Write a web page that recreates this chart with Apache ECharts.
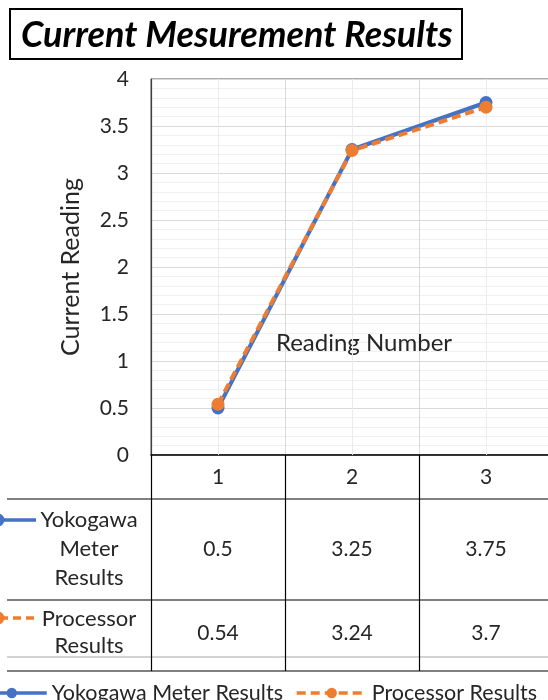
<!DOCTYPE html>
<html>
<head>
<meta charset="utf-8">
<script src="https://cdn.jsdelivr.net/npm/echarts@6/dist/echarts.min.js"></script>
<style>html,body{margin:0;padding:0;background:#fff}#c{width:548px;height:700px}</style>
</head>
<body>
<div id="c"></div>
<script>
const titleText = 'Current Mesurement Results';
const categories = ['1', '2', '3'];
const seriesNames = ['Yokogawa Meter Results', 'Processor Results'];
const tableRowLabels = ['Yokogawa\nMeter\nResults', 'Processor\nResults'];
const yokogawa = [0.5, 3.25, 3.75];
const processor = [0.54, 3.24, 3.7];
const yAxisName = 'Current Reading';
const xAxisName = 'Reading Number';

const FONT = 'Lato';
const TXT = '#262626';
const BLUE = '#4472C4';
const ORANGE = '#ED7D31';

const chart = echarts.init(document.getElementById('c'), null, {renderer: 'canvas'});

const option = {
  animation: false,
  textStyle: {fontFamily: FONT},
  title: {
    text: titleText, left: 10, top: 9,
    padding: [8, 10, 6, 11],
    borderColor: '#000', borderWidth: 2,
    textStyle: {fontFamily: FONT, fontSize: 36, fontWeight: 'bold', fontStyle: 'italic', color: '#000'}
  },
  legend: {
    data: seriesNames, left: -30, top: 677,
    itemWidth: 70, itemHeight: 13, itemGap: 12,
    lineStyle: {width: 3.5},
    textStyle: {fontFamily: FONT, fontSize: 21.5, color: TXT}
  },
  grid: {left: 151, top: 79, width: 402, bottom: 245, outerBoundsMode: 'none', show: true, borderColor: '#595959', borderWidth: 1},
  xAxis: {
    type: 'category', data: categories, boundaryGap: true,
    axisLine: {show: true, lineStyle: {color: '#000', width: 1.5}},
    axisTick: {show: true, length: 216, lineStyle: {color: '#000', width: 1.2}},
    axisLabel: {margin: 12, fontSize: 21, color: TXT, fontFamily: FONT},
    splitLine: {show: true, lineStyle: {color: '#d9d9d9'}}
  },
  yAxis: {
    type: 'value', min: 0, max: 4, interval: 0.5,
    name: yAxisName, nameLocation: 'middle', nameGap: 68,
    nameTextStyle: {fontSize: 25, color: TXT, fontFamily: FONT},
    axisLine: {show: true, lineStyle: {color: '#404040', width: 1.2}},
    axisTick: {show: false},
    axisLabel: {margin: 22, fontSize: 21, color: TXT, fontFamily: FONT},
    splitLine: {show: true, lineStyle: {color: '#d9d9d9'}},
    minorTick: {show: false, splitNumber: 5},
    minorSplitLine: {show: true, lineStyle: {color: '#f0f0f0'}}
  },
  series: [
    {
      name: seriesNames[0], type: 'line', data: yokogawa,
      symbol: 'circle', symbolSize: 13,
      lineStyle: {color: BLUE, width: 4},
      itemStyle: {color: BLUE},
      markLine: {
        silent: true, symbol: 'none', z: 1, label: {show: false},
        lineStyle: {color: '#ececec', width: 1, type: 'solid'},
        data: categories.map((c) => ({xAxis: c}))
      }
    },
    {
      name: seriesNames[1], type: 'line', data: processor,
      symbol: 'circle', symbolSize: 13,
      lineStyle: {color: ORANGE, width: 4, type: [9, 5]},
      itemStyle: {color: ORANGE}
    }
  ]
};
chart.setOption(option);

const colX = categories.map((c, i) => chart.convertToPixel({xAxisIndex: 0}, i));
const rowLines = [499, 600];
const rowCenters = [549, 633];
const graphics = [];
rowLines.forEach((y) => graphics.push({type: 'line', shape: {x1: 7, y1: y, x2: 548, y2: y}, style: {stroke: '#000', lineWidth: 1.2}}));
graphics.push({type: 'line', shape: {x1: 7, y1: 657, x2: 548, y2: 657}, style: {stroke: '#a6a6a6', lineWidth: 1}});
graphics.push({type: 'line', shape: {x1: 7, y1: 671, x2: 548, y2: 671}, style: {stroke: '#000', lineWidth: 1.2}});
const rowData = [yokogawa, processor];
const rowColors = [BLUE, ORANGE];
const rowLabelY = [549, 632];
const keyY = [520, 618];
rowData.forEach((vals, r) => {
  graphics.push({type: 'text', x: 89, y: rowLabelY[r], style: {text: tableRowLabels[r], fontFamily: FONT, fontSize: 22, fill: TXT, align: 'center', verticalAlign: 'middle', lineHeight: r === 0 ? 29 : 27}});
  graphics.push({type: 'line', shape: {x1: 0, y1: keyY[r], x2: 36, y2: keyY[r]}, style: {stroke: rowColors[r], lineWidth: 3.5, lineDash: r === 1 ? [8, 5] : null}});
  graphics.push({type: 'circle', shape: {cx: -2, cy: keyY[r], r: 6.5}, style: {fill: rowColors[r]}});
  vals.forEach((v, i) => {
    graphics.push({type: 'text', x: colX[i], y: rowCenters[r], style: {text: String(v), fontFamily: FONT, fontSize: 21, fill: TXT, align: 'center', verticalAlign: 'middle'}});
  });
});
graphics.push({type: 'text', x: 364, y: 343, style: {text: xAxisName, fontFamily: FONT, fontSize: 24, fill: TXT, align: 'center', verticalAlign: 'middle'}});
chart.setOption({graphic: graphics});
</script>
</body>
</html>
